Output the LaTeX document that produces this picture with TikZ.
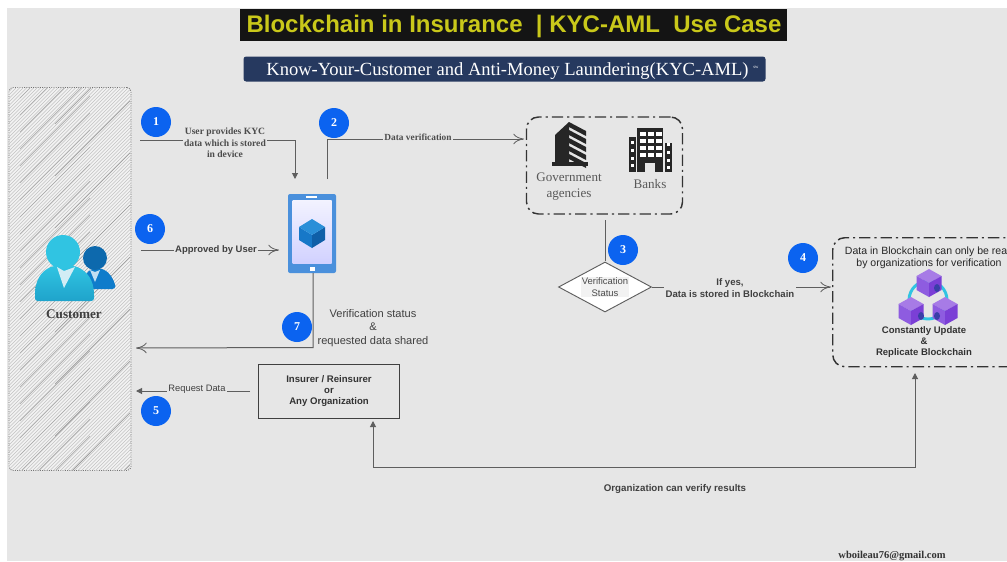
\documentclass[tikz,border=0pt]{standalone}
\usepackage{fontspec}
\setmainfont{Liberation Serif}
\setsansfont{Liberation Sans}
\usetikzlibrary{arrows.meta,shapes.geometric,calc}
\definecolor{pagegrey}{HTML}{E6E6E6}
\definecolor{linegrey}{HTML}{5E5E5E}
\definecolor{badgeblue}{HTML}{0B63F0}
\definecolor{titlegold}{HTML}{C9C81A}
\definecolor{navy}{HTML}{26395F}
\definecolor{tealA}{HTML}{30C4E2}
\definecolor{tealB}{HTML}{1FA3CB}
\definecolor{blueA}{HTML}{0F7CCB}
\definecolor{phoneblue}{HTML}{4A90DC}
\definecolor{purpA}{HTML}{A77BE6}
\definecolor{purpB}{HTML}{7B3FD6}
\definecolor{purpC}{HTML}{8E5CE0}
\definecolor{holeblue}{HTML}{3A3FA8}
\definecolor{cubeleft}{HTML}{1778C8}
\definecolor{cuberight}{HTML}{0F5FA8}
\definecolor{cubetop}{HTML}{2A8FD8}
\newcommand{\cubeicon}[2]{%
 \fill[purpA] (#1,#2-14) -- (#1+12.5,#2-7) -- (#1,#2) -- (#1-12.5,#2-7) -- cycle;
 \fill[purpC] (#1-12.5,#2-7) -- (#1,#2) -- (#1,#2+14) -- (#1-12.5,#2+7) -- cycle;
 \fill[purpB] (#1,#2) -- (#1+12.5,#2-7) -- (#1+12.5,#2+7) -- (#1,#2+14) -- cycle;
}
\tikzset{
 x=0.75pt,y=-0.75pt,
 badge/.style={circle,fill=badgeblue,draw=none,minimum size=30*0.75pt,inner sep=0pt,text=white,font=\fontsize{9}{9}\selectfont\bfseries},
 conn/.style={draw=linegrey,line width=0.75pt},
 openarrow/.style={conn,-{To[length=8pt,width=8pt,line width=.6pt]}},
 filledarrow/.style={conn,-{Triangle[length=4.5pt,width=4.5pt]}},
 seriflab/.style={font=\fontsize{7.2}{8.75}\selectfont\bfseries,align=center,text=black!70,inner sep=1pt,fill=pagegrey},
 sanslab/.style={font=\sffamily\fontsize{7}{8.5}\selectfont,align=center,text=black!75,inner sep=1pt},
 groupbox/.style={draw=black!80,line width=1.1pt,rounded corners=9pt,dash pattern=on 8.5pt off 3pt on 1.6pt off 3pt},
 icon/.style={fill=black!85,draw=none},
}
\begin{document}
\begin{tikzpicture}
\useasboundingbox (0,0) rectangle (1007,561);
\fill[white] (0,0) rectangle (1007,561);
\fill[pagegrey] (7,8) rectangle (1007,561);
% title
\node[fill=black!92,minimum width=547*0.75pt,minimum height=32*0.75pt,inner sep=0pt] (title) at (513.5,24.5) {};
\node[text=titlegold,font=\sffamily\bfseries\fontsize{18}{20}\selectfont] (titletext) at (514,26) {Blockchain in Insurance\ \ | KYC-AML\ \ Use Case};
\node[fill=navy,rounded corners=2pt,minimum width=522*0.75pt,minimum height=25*0.75pt,inner sep=0pt] (sub) at (504.5,69) {};
\node[text=white,font=\fontsize{13.9}{15}\selectfont] (subtext) at (507.5,71) {Know-Your-Customer and Anti-Money Laundering(KYC-AML)};
\node[text=white,font=\fontsize{3.5}{4}\selectfont] (subtm) at (756,67) {sw};
% customer lane
\node[draw=black!55,densely dotted,line width=.7pt,rounded corners=3pt,fill=black!5,minimum width=122*0.75pt,minimum height=383*0.75pt,inner sep=0pt] (lane) at (70,279) {};
\begin{scope}
\clip[rounded corners=3pt] (9,88) rectangle (131,470);
\foreach \i in {90,93.5,...,610}{
 \draw[black!24,line width=.35pt] (-5,\i+5) -- (140,\i-140);
}
\foreach \i in {101,118,...,610}{
 \draw[black!34,line width=.4pt] (20,\i-20) -- (90,\i-90);
}
\foreach \i in {127,179,...,610}{
 \draw[black!40,line width=.45pt] (55,\i-55) -- (130,\i-130);
}
\end{scope}
% person icon
\fill[blueA] (82,289) .. controls (84,276) and (86,272) .. (92,269) -- (102,269) .. controls (110,272) and (113,278) .. (115.5,286) .. controls (115.5,288) and (114,289) .. (112,289) -- cycle;
\fill[blueA!85!black] (95,258) circle (12);
\fill[white!75!blueA] (90,270) -- (95,282) -- (100,270) -- (95,272) -- cycle;
\shade[top color=tealA,bottom color=tealB,rounded corners=2pt] (35,301) -- (94,301) -- (94,292) .. controls (92,276) and (84,270) .. (75,266) -- (53,266) .. controls (44,270) and (37,276) .. (35,292) -- cycle;
\fill[tealA] (63,252) circle (17);
\fill[white!80!tealB] (57,267) -- (64,288) -- (75,267) -- (64,271) -- cycle;
\node[font=\fontsize{9.9}{11}\selectfont\bfseries,text=black!75] (custlabel) at (74,314) {Customer};
% phone
\node[fill=phoneblue,rounded corners=1.5pt,minimum width=48*0.75pt,minimum height=79*0.75pt,inner sep=0pt] (phone) at (312,233.5) {};
\shade[top color=blue!5!white,bottom color=blue!18!white] (292.5,200.5) rectangle (331.5,263.5);
\draw[white,line width=.8pt] (306,197) -- (317,197);
\fill[white] (309.5,266.5) rectangle (314.5,270.5);
\fill[cubeleft] (299,227) -- (312,235) -- (312,248) -- (299,240) -- cycle;
\fill[cuberight] (325,227) -- (312,235) -- (312,248) -- (325,240) -- cycle;
\fill[cubetop] (312,219) -- (325,227) -- (312,235) -- (299,227) -- cycle;
% badges
\node[badge] (b1) at (156,122) {1};
\node[badge] (b2) at (334,123) {2};
\node[badge] (b6) at (150,229) {6};
\node[badge] (b7) at (297,327) {7};
\node[badge] (b5) at (156,411) {5};
\node[badge] (b3) at (623,250) {3};
\node[badge] (b4) at (803,258) {4};
% gov box
\node[groupbox,minimum width=156*0.75pt,minimum height=97*0.75pt,inner sep=0pt] (gov) at (604.5,165.5) {};
\node[font=\fontsize{9.8}{12}\selectfont,align=center,text=black!65] (govtext) at (569,187) {Government\\agencies};
\node[font=\fontsize{9.8}{12}\selectfont,text=black!65] (bankstext) at (650,184) {Banks};
% gov icon
\fill[icon] (552,166) -- (588,166) -- (588,162) -- (552,162) -- cycle;
\fill[icon] (555,162) -- (555,135) -- (569,122) -- (569,162) -- cycle;
\foreach \yy in {122,130,138,146,154}{
 \fill[icon] (569,\yy) -- (586,\yy+9) -- (586,\yy+14) -- (569,\yy+5) -- cycle;
}
% bank icon
\fill[icon] (637,128) rectangle (663,172);
\fill[icon] (629,137) rectangle (636,172);
\fill[icon] (665,143) rectangle (672,172);
\foreach \yy in {132,139,146,153}{\foreach \xx in {640,648,656}{\fill[white] (\xx,\yy) rectangle (\xx+6,\yy+3.5);}}
\foreach \yy in {141,149,157,164}{\fill[white] (631,\yy) rectangle (634,\yy+2.5);\fill[white] (667,\yy+2) rectangle (670,\yy+4.5);}
\fill[pagegrey] (645,163) rectangle (655,172);
% diamond
\node[diamond,draw=linegrey,fill=white,line width=.7pt,aspect=1.8,minimum width=93*0.75pt,minimum height=50*0.75pt,inner sep=0pt] (dec) at (605,287) {};
\node[font=\sffamily\fontsize{7.1}{8.8}\selectfont,align=center,text=black!70,fill=pagegrey!50,inner sep=.5pt] (dectext) at (605,287) {Verification\\Status};
% store box
\node[groupbox,anchor=north west,minimum width=200*0.75pt,minimum height=129*0.75pt,inner sep=0pt] (store) at (832,237) {};
\node[font=\sffamily\fontsize{7.9}{8.8}\selectfont,align=center,text=black!85] (storetop) at (929,258) {Data in Blockchain can only be read\\by organizations for verification};
\node[font=\sffamily\bfseries\fontsize{7.15}{8.5}\selectfont,align=center,text=black!80] (storebot) at (924,342) {Constantly Update\\\&\\Replicate Blockchain};
% block icon
\draw[tealA,line width=2.2pt] (928,300) circle (19);
\cubeicon{929}{283}
\cubeicon{911}{311}
\cubeicon{945}{311}
\fill[holeblue] (937,288) ellipse (3 and 4);
\fill[holeblue] (921,316) ellipse (3 and 4);
\fill[holeblue] (937,316) ellipse (3 and 4);
% insurer
\node[draw=black!75,line width=.7pt,fill=pagegrey,minimum width=141*0.75pt,minimum height=54*0.75pt,inner sep=0pt,font=\sffamily\bfseries\fontsize{7.2}{8.5}\selectfont,align=center,text=black!80] (ins) at (329,391) {Insurer / Reinsurer\\or\\Any Organization};
% connectors
\coordinate (c1s) at (140,140);
\coordinate (c1e) at (295,179);
\draw[filledarrow] (c1s) -| (c1e);
\node[seriflab] (l1) at (225,143) {User provides KYC\\data which is stored\\in device};
\coordinate (c2s) at (327,179);
\coordinate (c2e) at (524,139);
\draw[openarrow] (c2s) |- (c2e);
\node[seriflab,font=\fontsize{7}{8}\selectfont\bfseries] (l2) at (418,137.5) {Data verification};
\coordinate (c6s) at (141,250);
\coordinate (c6e) at (279,250);
\draw[openarrow] (c6s) -- (c6e);
\node[sanslab,fill=pagegrey,font=\sffamily\bfseries\fontsize{7.1}{8}\selectfont] (l6) at (216,250) {Approved by User};
\coordinate (c7e) at (136,348);
\coordinate (c7s) at (313,273);
\draw[openarrow] (c7s) -- (313,347.5) -- (c7e);
\node[sanslab,font=\sffamily\fontsize{8.3}{9.9}\selectfont] (l7) at (373,328) {Verification status\\\&\\requested data shared};
\coordinate (c3s) at (605,220);
\draw[conn] (c3s) -- (605,261);
\coordinate (c4e) at (831,287);
\draw[openarrow] (dec.east) -- (c4e);
\node[sanslab,fill=pagegrey,font=\sffamily\bfseries\fontsize{7.2}{9}\selectfont] (l4) at (730,288) {If yes,\\Data is stored in Blockchain};
\coordinate (c5s) at (250,391);
\coordinate (c5e) at (136,391);
\draw[filledarrow] (c5s) -- (c5e);
\node[sanslab,fill=pagegrey] (l5) at (197,389.5) {Request Data};
\coordinate (c8s) at (915,373);
\coordinate (c8m) at (915,467);
\coordinate (c8e) at (373,421);
\draw[conn,{Triangle[length=4.5pt,width=4.5pt]}-{Triangle[length=4.5pt,width=4.5pt]}] (c8s) -- (c8m) -| (c8e);
\node[sanslab,font=\sffamily\bfseries\fontsize{7.3}{8}\selectfont] (l8) at (675,489) {Organization can verify results};
\node[font=\fontsize{7.9}{9}\selectfont\bfseries,text=black!80] (mail) at (892,556) {wboileau76@gmail.com};
\end{tikzpicture}
\end{document}
